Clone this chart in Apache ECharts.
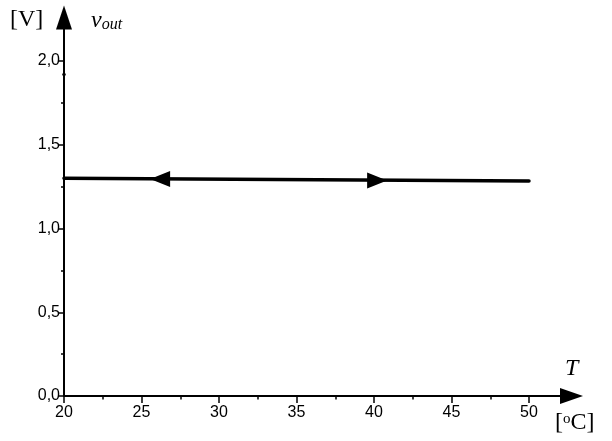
<!DOCTYPE html>
<html>
<head>
<meta charset="utf-8">
<script src="https://cdn.jsdelivr.net/npm/echarts@6/dist/echarts.min.js"></script>
<style>
  html, body { margin: 0; padding: 0; background: #fff; }
  #chart { width: 612px; height: 441px; }
</style>
</head>
<body>
<div id="chart"></div>
<script>
// Output voltage vs temperature (heating and cooling sweep)
const tempPoints = [20, 50];
const voutPoints = [1.30, 1.283];

// Direction arrows on the curve: position and pointing direction
const arrowTemps = [26.2, 40.2];
const arrowVolts = [1.295, 1.287];
const arrowRotations = [90, -90];

// Stray point on the axis
const dotTemps = [20];
const dotVolts = [1.92];

// Axis ticks
const xMajorTicks = [20, 25, 30, 35, 40, 45, 50];
const xMinorTicks = [22.5, 27.5, 32.5, 37.5, 42.5, 47.5];
const yMajorTicks = [0, 0.5, 1.0, 1.5, 2.0];
const yMinorTicks = [0.25, 0.75, 1.25, 1.75];

const X_MIN = 20, X_MAX = 52;
const Y_MIN = 0, Y_MAX = 2.2;

const chart = echarts.init(document.getElementById('chart'), null, { renderer: 'canvas' });

const labelFont = { fontFamily: 'Liberation Sans, Arial, sans-serif', fontSize: 16, color: '#000' };
const commaFmt = v => Number(v).toFixed(1).replace('.', ',');

const option = {
  animation: false,
  backgroundColor: '#fff',
  grid: { left: 64, right: 52, top: 27.5, bottom: 45, containLabel: false },
  xAxis: [
    {
      type: 'value', min: X_MIN, max: X_MAX,
      axisLine: {
        show: true, onZero: false,
        lineStyle: { color: '#000', width: 2 },
        symbol: ['none', 'triangle'], symbolSize: [16, 23], symbolOffset: [0, 11.5]
      },
      axisTick: { show: true, length: 7, lineStyle: { color: '#000', width: 1.5 }, customValues: xMajorTicks },
      axisLabel: { show: true, margin: 9, customValues: xMajorTicks, ...labelFont },
      splitLine: { show: false }
    },
    {
      type: 'value', min: X_MIN, max: X_MAX, position: 'bottom',
      axisLine: { show: false },
      axisTick: { show: true, length: 3.5, lineStyle: { color: '#000', width: 1.5 }, customValues: xMinorTicks },
      axisLabel: { show: false },
      splitLine: { show: false }
    }
  ],
  yAxis: [
    {
      type: 'value', min: Y_MIN, max: Y_MAX,
      axisLine: {
        show: true, onZero: false,
        lineStyle: { color: '#000', width: 2 },
        symbol: ['none', 'triangle'], symbolSize: [16, 24], symbolOffset: [0, 10]
      },
      axisTick: { show: true, length: 6, lineStyle: { color: '#000', width: 1.5 }, customValues: yMajorTicks },
      axisLabel: { show: true, margin: 4, customValues: yMajorTicks, formatter: commaFmt, ...labelFont },
      splitLine: { show: false }
    },
    {
      type: 'value', min: Y_MIN, max: Y_MAX, position: 'left',
      axisLine: { show: false },
      axisTick: { show: true, length: 3, lineStyle: { color: '#000', width: 1.5 }, customValues: yMinorTicks },
      axisLabel: { show: false },
      splitLine: { show: false }
    }
  ],
  series: [
    {
      type: 'line',
      data: tempPoints.map((t, i) => [t, voutPoints[i]]),
      showSymbol: false, symbol: 'none',
      lineStyle: { color: '#000', width: 3.5, cap: 'round' },
      z: 5
    },
    {
      type: 'scatter',
      data: arrowTemps.map((t, i) => ({ value: [t, arrowVolts[i]], symbolRotate: arrowRotations[i] })),
      symbol: 'triangle', symbolSize: [16, 20],
      itemStyle: { color: '#000', opacity: 1 },
      z: 6
    },
    {
      type: 'scatter',
      data: dotTemps.map((t, i) => [t, dotVolts[i]]),
      symbol: 'circle', symbolSize: 3.5,
      itemStyle: { color: '#000', opacity: 1 },
      z: 6
    }
  ],
  graphic: [
    {
      type: 'text', left: 10, top: 8,
      style: { text: '[V]', font: '24px "Liberation Serif", "Times New Roman", serif', fill: '#000' }
    },
    {
      type: 'text', left: 91, top: 9,
      style: {
        text: '{v|v}{s|out}',
        fill: '#000',
        rich: {
          v: { font: 'italic 24px "Liberation Serif", "Times New Roman", serif', fill: '#000' },
          s: { font: 'italic 16px "Liberation Serif", "Times New Roman", serif', fill: '#000', padding: [8, 0, 0, 0] }
        }
      }
    },
    {
      type: 'text', left: 565, top: 357,
      style: { text: 'T', font: 'italic 24px "Liberation Serif", "Times New Roman", serif', fill: '#000' }
    },
    {
      type: 'text', left: 555, top: 411,
      style: {
        text: '[{o|o}C]',
        font: '24px "Liberation Serif", "Times New Roman", serif',
        fill: '#000',
        rich: {
          o: { font: '15px "Liberation Serif", "Times New Roman", serif', fill: '#000', padding: [0, 0, 8, 0] }
        }
      }
    }
  ]
};

chart.setOption(option);
</script>
</body>
</html>
